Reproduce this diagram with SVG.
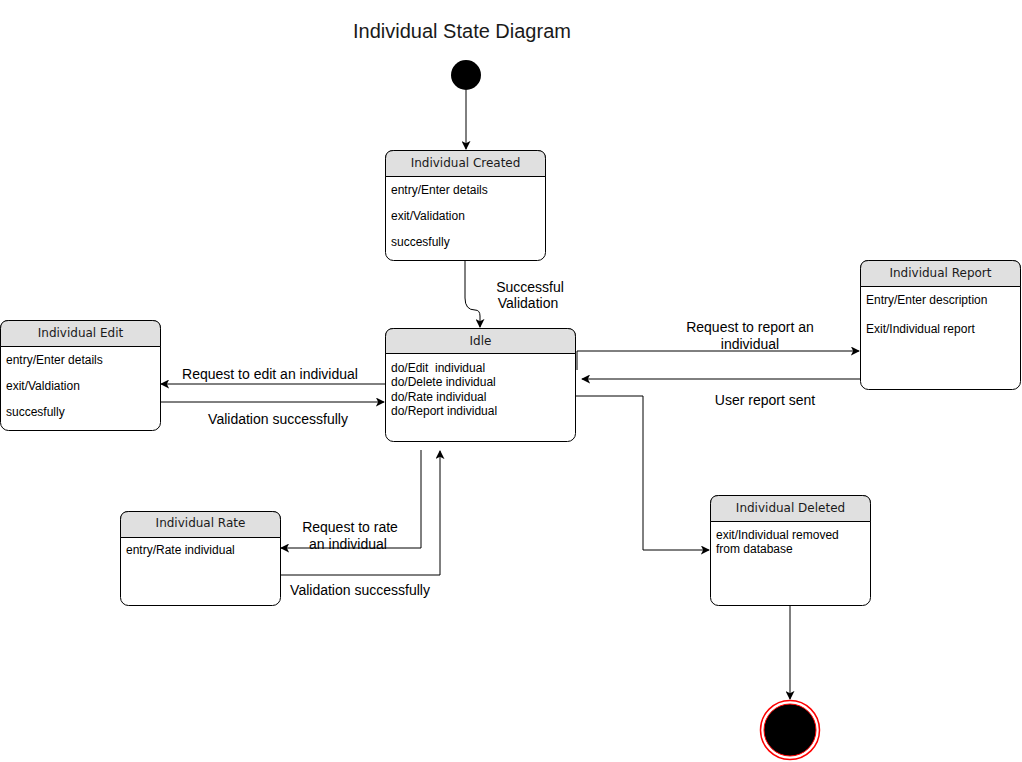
<svg xmlns="http://www.w3.org/2000/svg" width="1022" height="762" viewBox="0 0 1022 762">
<defs>
<style>
.box{fill:#ffffff;stroke:#000000;stroke-width:1}
.hdr{fill:#e0e0e0;stroke:#000000;stroke-width:1}
.ttl{font-family:"DejaVu Sans",sans-serif;font-size:12px;fill:#1a1a1a;text-anchor:middle}
.body{font-family:"Liberation Sans",Arial,sans-serif;font-size:12px;fill:#000000;white-space:pre}
.lbl{font-family:"Liberation Sans",Arial,sans-serif;font-size:14px;fill:#000000;text-anchor:middle}
.edge{fill:none;stroke:#000000;stroke-width:1}
</style>
<marker id="arr" viewBox="0 0 10 10" refX="9" refY="5" markerWidth="9" markerHeight="9" markerUnits="userSpaceOnUse" orient="auto">
<path d="M0,0 L10,5 L0,10 L2.5,5 Z" fill="#000000"/>
</marker>
</defs>
<rect width="1022" height="762" fill="#ffffff"/>
<text x="462" y="38" font-family="Liberation Sans, Arial, sans-serif" font-size="20" text-anchor="middle" fill="#1a1a1a">Individual State Diagram</text>

<g id="connectors">
<path class="edge" d="M466,90 L466,149" marker-end="url(#arr)"/>
<path class="edge" d="M465,260 L465,298 Q465,310 475,310 Q480,310 480,316 L480,327" marker-end="url(#arr)"/>
<path class="edge" d="M385,384 L161,384" marker-end="url(#arr)"/>
<path class="edge" d="M161,402 L384,402" marker-end="url(#arr)"/>
<path class="edge" d="M577,370 L577,351 L859,351" marker-end="url(#arr)"/>
<path class="edge" d="M860,379 L582,379" marker-end="url(#arr)"/>
<path class="edge" d="M576,396 L643,396 L643,550 L709,550" marker-end="url(#arr)"/>
<path class="edge" d="M421,450 L421,548 L281,548" marker-end="url(#arr)"/>
<path class="edge" d="M281,575 L440,575 L440,451" marker-end="url(#arr)"/>
<path class="edge" d="M790,605 L790,699" marker-end="url(#arr)"/>
<text class="lbl" x="530" y="292">Successful</text>
<text class="lbl" x="528" y="308">Validation</text>
<text class="lbl" x="270" y="379">Request to edit an individual</text>
<text class="lbl" x="278" y="424">Validation successfully</text>
<text class="lbl" x="750" y="332">Request to report an</text>
<text class="lbl" x="750" y="349">individual</text>
<text class="lbl" x="765" y="405">User report sent</text>
<text class="lbl" x="350" y="532">Request to rate</text>
<text class="lbl" x="348" y="549">an individual</text>
<text class="lbl" x="360" y="595">Validation successfully</text>
</g>

<g id="initial">
<circle cx="466" cy="75" r="15" fill="#000000"/>
</g>

<g id="individual-created">
<rect class="box" x="385.5" y="150.5" width="160" height="110" rx="8"/>
<path class="hdr" d="M385.5,176.5 L385.5,158.5 Q385.5,150.5 393.5,150.5 L537.5,150.5 Q545.5,150.5 545.5,158.5 L545.5,176.5 Z"/>
<text class="ttl" x="465.5" y="167">Individual Created</text>
<text class="body" x="391" y="194">entry/Enter details</text>
<text class="body" x="391" y="220">exit/Validation</text>
<text class="body" x="391" y="246">succesfully</text>
</g>

<g id="idle">
<rect class="box" x="385.5" y="328.5" width="190" height="113" rx="8"/>
<path class="hdr" d="M385.5,353.5 L385.5,336.5 Q385.5,328.5 393.5,328.5 L567.5,328.5 Q575.5,328.5 575.5,336.5 L575.5,353.5 Z"/>
<text class="ttl" x="480.5" y="345">Idle</text>
<text class="body" x="391" y="372" xml:space="preserve">do/Edit  individual</text>
<text class="body" x="391" y="386">do/Delete individual</text>
<text class="body" x="391" y="401">do/Rate individual</text>
<text class="body" x="391" y="415">do/Report individual</text>
</g>

<g id="individual-edit">
<rect class="box" x="0.5" y="320.5" width="160" height="110" rx="8"/>
<path class="hdr" d="M0.5,346.5 L0.5,328.5 Q0.5,320.5 8.5,320.5 L152.5,320.5 Q160.5,320.5 160.5,328.5 L160.5,346.5 Z"/>
<text class="ttl" x="80.5" y="337">Individual Edit</text>
<text class="body" x="6" y="364">entry/Enter details</text>
<text class="body" x="6" y="390">exit/Valdiation</text>
<text class="body" x="6" y="416">succesfully</text>
</g>

<g id="individual-report">
<rect class="box" x="860.5" y="260.5" width="160" height="129" rx="8"/>
<path class="hdr" d="M860.5,286.5 L860.5,268.5 Q860.5,260.5 868.5,260.5 L1012.5,260.5 Q1020.5,260.5 1020.5,268.5 L1020.5,286.5 Z"/>
<text class="ttl" x="940.5" y="277">Individual Report</text>
<text class="body" x="866" y="304">Entry/Enter description</text>
<text class="body" x="866" y="333">Exit/Individual report</text>
</g>

<g id="individual-rate">
<rect class="box" x="120.5" y="511.5" width="160" height="94" rx="8"/>
<path class="hdr" d="M120.5,537.5 L120.5,519.5 Q120.5,511.5 128.5,511.5 L272.5,511.5 Q280.5,511.5 280.5,519.5 L280.5,537.5 Z"/>
<text class="ttl" x="200.5" y="527">Individual Rate</text>
<text class="body" x="126" y="554">entry/Rate individual</text>
</g>

<g id="individual-deleted">
<rect class="box" x="710.5" y="495.5" width="160" height="110" rx="8"/>
<path class="hdr" d="M710.5,521.5 L710.5,503.5 Q710.5,495.5 718.5,495.5 L862.5,495.5 Q870.5,495.5 870.5,503.5 L870.5,521.5 Z"/>
<text class="ttl" x="790.5" y="512">Individual Deleted</text>
<text class="body" x="716" y="539">exit/Individual removed</text>
<text class="body" x="716" y="553">from database</text>
</g>

<g id="final">
<circle cx="790" cy="730" r="29.5" fill="#ffffff" stroke="#ff0000" stroke-width="1.5"/>
<circle cx="790" cy="730" r="26" fill="#000000" stroke="#ff0000" stroke-width="1"/>
</g>
</svg>
